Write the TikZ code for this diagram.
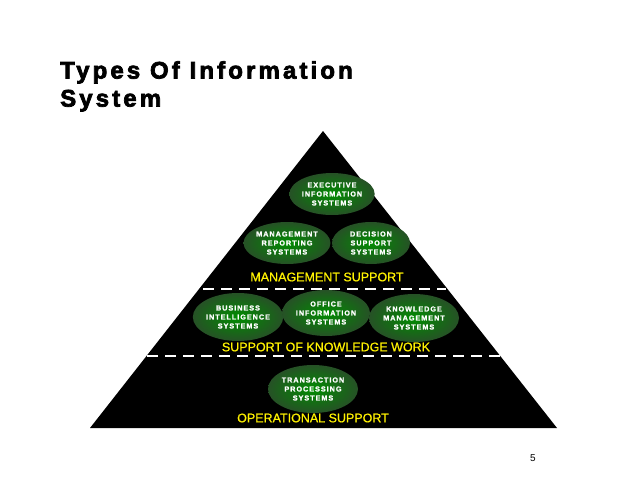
\documentclass[tikz,border=0pt]{standalone}
\usepackage{fontspec}
\setmainfont{Liberation Sans}
\newfontfamily\spaced[LetterSpace=14,FakeBold=1.5]{Liberation Sans}
\newfontfamily\titlef[LetterSpace=13,FakeBold=3]{Liberation Sans}
\newfontfamily\lvlf[FakeBold=0.8]{Liberation Sans}
\usetikzlibrary{shapes.geometric}
\tikzset{
 sys/.style={ellipse,minimum width=#1,inner color=green!55!black,outer color=green!20!black!85,draw=none,text=white,align=center,font=\spaced\bfseries\fontsize{7.2}{9}\selectfont,inner sep=0pt},
 lvl/.style={text=yellow,font=\lvlf\fontsize{12.5}{14}\selectfont,inner sep=0pt},
 sep/.style={white,line width=2pt,dash pattern=on 11pt off 7pt}
}
\begin{document}
\begin{tikzpicture}[x=1pt,y=-1pt]
\useasboundingbox (0,0) rectangle (638,479);
\node[anchor=north west,align=left,font=\titlef\bfseries\fontsize{24}{28}\selectfont,inner sep=0pt] (title) at (60,61) {Types Of Information\\System};
\coordinate (apex) at (323,131);
\coordinate (bl) at (90,428);
\coordinate (br) at (557,428);
\fill[black] (apex) -- (bl) -- (br) -- cycle;
\coordinate (d1l) at (203,289); \coordinate (d1r) at (446,289);
\coordinate (d2l) at (147,356); \coordinate (d2r) at (500,356);
\draw[sep] (d1l) -- (d1r);
\draw[sep] (d2l) -- (d2r);
\node[sys=80pt,minimum height=42pt] (eis) at (332,194) {EXECUTIVE\\INFORMATION\\SYSTEMS};
\node[sys=80pt,minimum height=42pt] (mrs) at (287,243) {MANAGEMENT\\REPORTING\\SYSTEMS};
\node[sys=78pt,minimum height=42pt] (dss) at (371,243) {DECISION\\SUPPORT\\SYSTEMS};
\node[sys=88pt,minimum height=48pt] (bis) at (238,317) {BUSINESS\\INTELLIGENCE\\SYSTEMS};
\node[sys=88pt,minimum height=46pt] (ois) at (326,313) {OFFICE\\INFORMATION\\SYSTEMS};
\node[sys=90pt,minimum height=48pt] (kms) at (414,318) {KNOWLEDGE\\MANAGEMENT\\SYSTEMS};
\node[sys=90pt,minimum height=48pt] (tps) at (313,389) {TRANSACTION\\PROCESSING\\SYSTEMS};
\node[lvl] (l1) at (327,277) {MANAGEMENT SUPPORT};
\node[lvl] (l2) at (326,347) {SUPPORT OF KNOWLEDGE WORK};
\node[lvl] (l3) at (313,418) {OPERATIONAL SUPPORT};
\node[font=\fontsize{10}{12}\selectfont] (pg) at (533,458) {5};
\end{tikzpicture}
\end{document}
